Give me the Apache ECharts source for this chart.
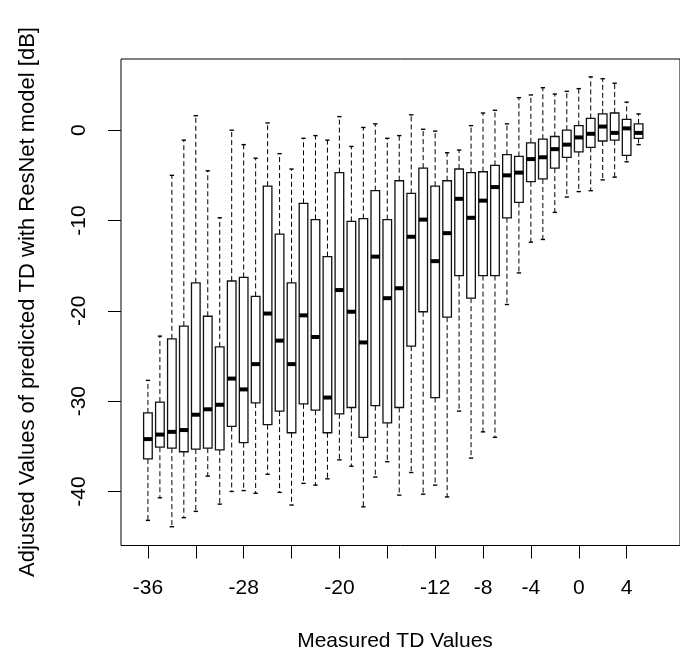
<!DOCTYPE html>
<html><head><meta charset="utf-8">
<script src="https://cdn.jsdelivr.net/npm/echarts@6/dist/echarts.min.js"></script>
<style>html,body{margin:0;padding:0;background:#fff}#c{width:680px;height:654px}</style>
</head><body><div id="c"></div>
<script>
const tdValues = [-36,-35,-34,-33,-32,-31,-30,-29,-28,-27,-26,-25,-24,-23,-22,-21,-20,-19,-18,-17,-16,-15,-14,-13,-12,-11,-10,-9,-8,-7,-6,-5,-4,-3,-2,-1,0,1,2,3,4,5];
const upperWhisker = [-27.7,-22.8,-5.0,-1.1,1.6,-4.5,-9.7,0.0,-1.6,-3.1,0.8,-2.6,-4.3,-0.9,-0.6,-1.1,1.5,-1.8,0.3,0.7,-0.9,-0.6,1.7,0.1,-0.1,-2.5,-2.2,0.5,1.9,2.2,0.7,3.6,3.9,4.7,4.0,4.3,4.6,5.9,5.7,5.2,3.1,1.8];
const upperQuartile = [-31.3,-30.1,-23.1,-21.7,-16.9,-20.6,-24.0,-16.7,-16.3,-18.4,-6.2,-11.5,-16.9,-8.1,-9.9,-14.0,-4.7,-10.1,-9.8,-6.7,-9.9,-5.6,-7.0,-4.2,-6.2,-5.6,-4.3,-4.7,-4.6,-3.9,-2.7,-2.9,-1.4,-1.0,-0.7,0.0,0.5,1.3,1.8,1.9,1.2,0.7];
const medians = [-34.2,-33.7,-33.4,-33.2,-31.5,-30.9,-30.4,-27.5,-28.7,-25.9,-20.3,-23.3,-25.9,-20.5,-22.9,-29.6,-17.7,-20.1,-23.5,-14.0,-18.6,-17.5,-11.8,-9.9,-14.5,-11.4,-7.6,-9.7,-7.8,-6.3,-5.0,-4.7,-3.2,-3.0,-2.1,-1.6,-0.8,-0.4,0.4,-0.3,0.2,-0.3];
const lowerQuartile = [-36.4,-35.1,-35.2,-35.6,-35.3,-35.2,-35.4,-32.8,-34.6,-30.2,-32.6,-31.1,-33.5,-30.3,-31.0,-33.5,-31.4,-30.7,-34.0,-30.5,-32.4,-30.7,-23.9,-20.1,-29.6,-20.7,-16.1,-18.6,-16.1,-16.1,-9.7,-8.0,-5.7,-5.4,-4.2,-3.0,-2.4,-1.9,-1.2,-1.1,-2.8,-0.9];
const lowerWhisker = [-43.2,-40.7,-43.9,-42.9,-42.2,-38.3,-41.4,-40.0,-39.9,-40.2,-38.1,-40.1,-41.5,-39.1,-39.3,-38.6,-36.5,-37.2,-41.7,-38.4,-36.7,-40.4,-37.9,-40.3,-39.3,-40.6,-31.1,-36.3,-33.4,-34.0,-19.3,-15.8,-12.4,-12.1,-9.1,-7.4,-6.8,-6.7,-5.5,-5.2,-3.5,-1.6];
const xTickValues = [-36,-32,-28,-24,-20,-16,-12,-8,-4,0,4];
const xLabelValues = [-36,-28,-20,-12,-8,-4,0,4];
const yTickValues = [-40,-30,-20,-10,0];
const xTitle = 'Measured TD Values';
const yTitle = 'Adjusted Values of predicted TD with ResNet model [dB]';

const boxData = tdValues.map((t, i) => [t, lowerWhisker[i], lowerQuartile[i], medians[i], upperQuartile[i], upperWhisker[i]]);
const FONT = 'Liberation Sans, Arial, Helvetica, sans-serif';

function renderItem(params, api) {
  const x = api.value(0);
  const lo = api.coord([x, api.value(1)]);
  const q1 = api.coord([x, api.value(2)]);
  const md = api.coord([x, api.value(3)]);
  const q3 = api.coord([x, api.value(4)]);
  const hi = api.coord([x, api.value(5)]);
  const bw = api.size([0.72, 0])[0];
  const cx = md[0];
  const sw = bw / 2;
  const dash = {stroke: '#000', lineWidth: 1, lineDash: [5, 3], fill: null};
  const solid = {stroke: '#000', lineWidth: 1.4, fill: null};
  return {type: 'group', children: [
    {type: 'line', shape: {x1: cx, y1: q3[1], x2: cx, y2: hi[1]}, style: dash},
    {type: 'line', shape: {x1: cx, y1: q1[1], x2: cx, y2: lo[1]}, style: dash},
    {type: 'line', shape: {x1: cx - sw / 2, y1: hi[1], x2: cx + sw / 2, y2: hi[1]}, style: solid},
    {type: 'line', shape: {x1: cx - sw / 2, y1: lo[1], x2: cx + sw / 2, y2: lo[1]}, style: solid},
    {type: 'rect', shape: {x: cx - bw / 2, y: q3[1], width: bw, height: q1[1] - q3[1]}, style: {fill: '#fff', stroke: '#111', lineWidth: 1.3}},
    {type: 'line', shape: {x1: cx - bw / 2, y1: md[1], x2: cx + bw / 2, y2: md[1]}, style: {stroke: '#000', lineWidth: 4}}
  ]};
}

const chart = echarts.init(document.getElementById('c'), null, {renderer: 'canvas'});
chart.setOption({
  animation: false,
  backgroundColor: '#fff',
  grid: {left: 121, top: 59, width: 561, height: 486.5, show: true, borderColor: '#000', borderWidth: 1, containLabel: false},
  xAxis: {
    type: 'value', min: -38.25, max: 8.46,
    axisLine: {show: false, onZero: false},
    splitLine: {show: false},
    axisTick: {show: true, customValues: xTickValues, length: 13, lineStyle: {color: '#000', width: 1}},
    axisLabel: {show: true, customValues: xLabelValues, fontSize: 21, fontFamily: FONT, color: '#000', margin: 32}
  },
  yAxis: {
    type: 'value', min: -45.98, max: 7.88,
    axisLine: {show: false, onZero: false},
    splitLine: {show: false},
    axisTick: {show: true, customValues: yTickValues, length: 13, lineStyle: {color: '#000', width: 1}},
    axisLabel: {show: true, customValues: yTickValues, rotate: 90, fontSize: 21, fontFamily: FONT, color: '#000', margin: 31}
  },
  graphic: [
    {type: 'text', x: 395, y: 641, style: {text: xTitle, font: '21px ' + FONT, fill: '#000', align: 'center', verticalAlign: 'middle'}},
    {type: 'text', x: 28, y: 302, rotation: Math.PI / 2, style: {text: yTitle, font: '22px ' + FONT, fill: '#000', align: 'center', verticalAlign: 'middle'}}
  ],
  series: [{
    type: 'custom',
    renderItem: renderItem,
    data: boxData,
    encode: {x: 0, y: [1, 2, 3, 4, 5]},
    clip: false
  }]
});
</script></body></html>
